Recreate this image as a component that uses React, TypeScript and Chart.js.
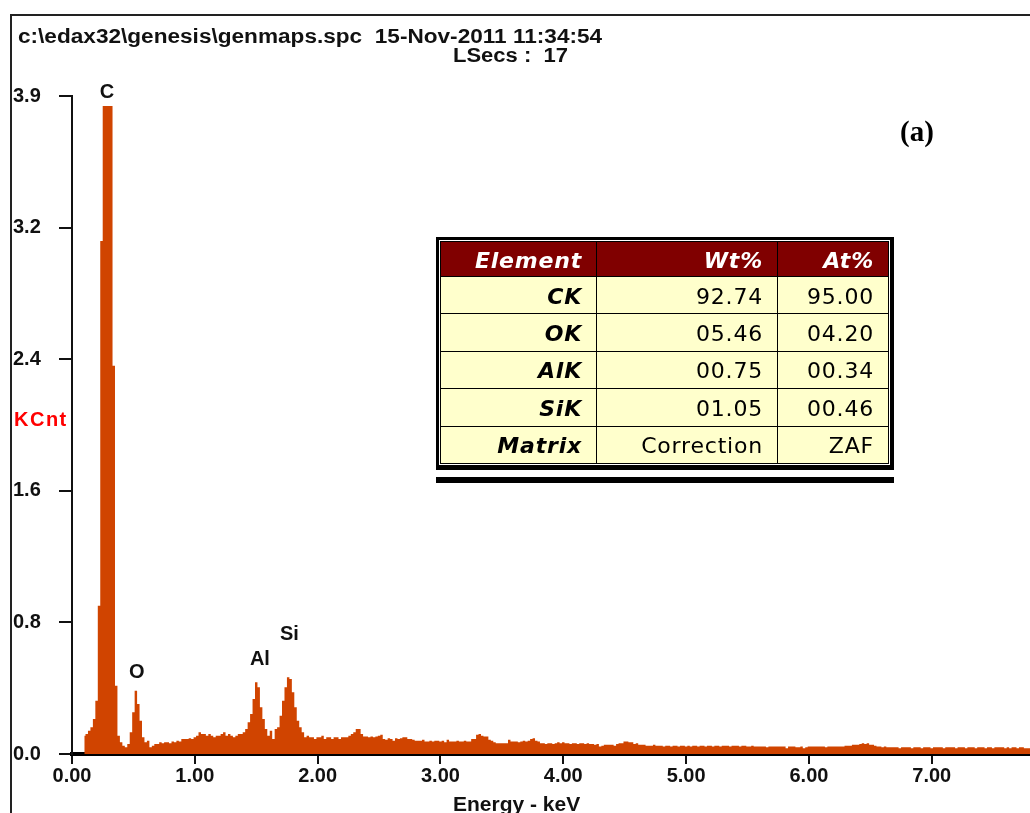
import React, { useEffect, useRef } from "react";
import { Chart, registerables } from "chart.js";

Chart.register(...registerables);

// Spectrum channels: centre of the first channel and channel width, in keV
const CHANNEL_START = 0.1;
const CHANNEL_WIDTH = 0.02;

// Counts per channel (KCnt), one row per 0.20 keV starting at the energy in the comment
const counts: number[] = [
  /* 0.10 */ 0.11, 0.12, 0.14, 0.16, 0.21, 0.32, 0.89, 3.08, 3.89, 3.89,
  /* 0.30 */ 3.89, 3.89, 2.33, 0.41, 0.11, 0.07, 0.05, 0.04, 0.06, 0.13,
  /* 0.50 */ 0.25, 0.38, 0.3, 0.2, 0.1, 0.07, 0.08, 0.04, 0.05, 0.06,
  /* 0.70 */ 0.06, 0.07, 0.065, 0.07, 0.07, 0.065, 0.075, 0.07, 0.08, 0.075,
  /* 0.90 */ 0.09, 0.09, 0.09, 0.095, 0.09, 0.1, 0.11, 0.13, 0.12, 0.12,
  /* 1.10 */ 0.11, 0.12, 0.11, 0.1, 0.11, 0.11, 0.12, 0.13, 0.11, 0.12,
  /* 1.30 */ 0.11, 0.1, 0.11, 0.12, 0.12, 0.13, 0.15, 0.19, 0.24, 0.33,
  /* 1.50 */ 0.43, 0.4, 0.28, 0.21, 0.15, 0.11, 0.14, 0.09, 0.15, 0.16,
  /* 1.70 */ 0.23, 0.32, 0.4, 0.46, 0.45, 0.37, 0.28, 0.2, 0.16, 0.13,
  /* 1.90 */ 0.1, 0.11, 0.1, 0.1, 0.09, 0.1, 0.1, 0.11, 0.09, 0.1,
  /* 2.10 */ 0.1, 0.09, 0.1, 0.1, 0.09, 0.1, 0.1, 0.1, 0.11, 0.12,
  /* 2.30 */ 0.13, 0.15, 0.15, 0.12, 0.105, 0.105, 0.1, 0.105, 0.1, 0.105,
  /* 2.50 */ 0.11, 0.115, 0.09, 0.085, 0.095, 0.09, 0.08, 0.095, 0.09, 0.095,
  /* 2.70 */ 0.1, 0.1, 0.09, 0.09, 0.085, 0.08, 0.08, 0.08, 0.085, 0.075,
  /* 2.90 */ 0.075, 0.08, 0.075, 0.08, 0.08, 0.075, 0.08, 0.07, 0.085, 0.075,
  /* 3.10 */ 0.075, 0.075, 0.08, 0.075, 0.075, 0.08, 0.075, 0.075, 0.09, 0.09,
  /* 3.30 */ 0.115, 0.12, 0.11, 0.105, 0.105, 0.085, 0.08, 0.07, 0.065, 0.065,
  /* 3.50 */ 0.065, 0.065, 0.065, 0.085, 0.075, 0.075, 0.075, 0.07, 0.075, 0.08,
  /* 3.70 */ 0.075, 0.08, 0.09, 0.095, 0.08, 0.075, 0.065, 0.065, 0.06, 0.065,
  /* 3.90 */ 0.065, 0.06, 0.065, 0.07, 0.065, 0.07, 0.065, 0.065, 0.06, 0.065,
  /* 4.10 */ 0.065, 0.06, 0.065, 0.065, 0.06, 0.065, 0.06, 0.06, 0.055, 0.06,
  /* 4.30 */ 0.045, 0.05, 0.055, 0.055, 0.055, 0.055, 0.05, 0.06, 0.065, 0.065,
  /* 4.50 */ 0.075, 0.075, 0.07, 0.07, 0.06, 0.065, 0.055, 0.055, 0.055, 0.05,
  /* 4.70 */ 0.05, 0.05, 0.055, 0.05, 0.05, 0.05, 0.045, 0.05, 0.05, 0.045,
  /* 4.90 */ 0.05, 0.05, 0.045, 0.05, 0.05, 0.045, 0.05, 0.045, 0.05, 0.05,
  /* 5.10 */ 0.045, 0.05, 0.05, 0.045, 0.05, 0.05, 0.045, 0.05, 0.05, 0.045,
  /* 5.30 */ 0.05, 0.05, 0.05, 0.045, 0.05, 0.05, 0.05, 0.045, 0.05, 0.05,
  /* 5.50 */ 0.045, 0.045, 0.05, 0.045, 0.045, 0.045, 0.045, 0.045, 0.04, 0.045,
  /* 5.70 */ 0.045, 0.045, 0.045, 0.045, 0.045, 0.045, 0.035, 0.045, 0.045, 0.045,
  /* 5.90 */ 0.04, 0.04, 0.045, 0.035, 0.04, 0.045, 0.045, 0.045, 0.045, 0.045,
  /* 6.10 */ 0.045, 0.045, 0.04, 0.045, 0.045, 0.045, 0.045, 0.045, 0.045, 0.045,
  /* 6.30 */ 0.05, 0.05, 0.05, 0.055, 0.055, 0.055, 0.06, 0.065, 0.06, 0.065,
  /* 6.50 */ 0.055, 0.055, 0.05, 0.045, 0.045, 0.04, 0.045, 0.04, 0.04, 0.04,
  /* 6.70 */ 0.04, 0.04, 0.035, 0.04, 0.04, 0.04, 0.04, 0.035, 0.04, 0.04,
  /* 6.90 */ 0.04, 0.035, 0.04, 0.04, 0.04, 0.035, 0.04, 0.04, 0.04, 0.04,
  /* 7.10 */ 0.035, 0.04, 0.04, 0.04, 0.04, 0.035, 0.04, 0.04, 0.04, 0.035,
  /* 7.30 */ 0.04, 0.04, 0.04, 0.035, 0.04, 0.04, 0.04, 0.035, 0.04, 0.04,
  /* 7.50 */ 0.035, 0.04, 0.04, 0.04, 0.04, 0.035, 0.04, 0.035, 0.04, 0.04,
  /* 7.70 */ 0.035, 0.04, 0.04, 0.035, 0.035, 0.035,
];

// Axes
const X_MAX = 7.8;
const xTickValues = [0, 1, 2, 3, 4, 5, 6, 7];
const xTickLabels = ["0.00", "1.00", "2.00", "3.00", "4.00", "5.00", "6.00", "7.00"];
const Y_MAX = 3.95;
const yTickValues = [0, 0.79, 1.58, 2.37, 3.16, 3.95];
const yTickLabels = ["0.0", "0.8", "1.6", "2.4", "3.2", "3.9"];

// Element peak markers: energy (keV) and height (KCnt) where each name sits
const peakNames = ["C", "O", "Al", "Si"];
const peakEnergies = [0.285, 0.527, 1.53, 1.77];
const peakLabelLevels = [3.97, 0.49, 0.57, 0.72];

// Quantification table
const tableHeader = ["Element", "Wt%", "At%"];
const elements = ["CK", "OK", "AlK", "SiK", "Matrix"];
const wtPercent = ["92.74", "05.46", "00.75", "01.05", "Correction"];
const atPercent = ["95.00", "04.20", "00.34", "00.46", "ZAF"];

const SPECTRUM_COLOR = "#D04400";
const SANS = '"Liberation Sans", Arial, sans-serif';

const peakLabelPlugin = {
  id: "peakLabels",
  afterDatasetsDraw(chart: any) {
    const { ctx, scales } = chart;
    const x = scales.x;
    const y = scales.y;
    ctx.save();
    ctx.font = `bold 20px ${SANS}`;
    ctx.fillStyle = "#111";
    ctx.textAlign = "center";
    ctx.textBaseline = "middle";
    peakNames.forEach((name, i) => {
      ctx.fillText(name, x.getPixelForValue(peakEnergies[i]), y.getPixelForValue(peakLabelLevels[i]));
    });
    ctx.restore();
  },
};

function SpectrumChart() {
  const canvasRef = useRef<HTMLCanvasElement | null>(null);

  useEffect(() => {
    const canvas = canvasRef.current;
    if (!canvas) return;
    const points = counts.map((c, i) => ({ x: CHANNEL_START + i * CHANNEL_WIDTH, y: c }));
    const tickFont = { family: SANS, size: 20, weight: "bold" as const };

    const chart = new Chart(canvas, {
      type: "line",
      data: {
        datasets: [
          {
            data: points,
            stepped: "middle",
            fill: "origin",
            backgroundColor: SPECTRUM_COLOR,
            borderColor: SPECTRUM_COLOR,
            borderWidth: 0,
            pointRadius: 0,
          },
        ],
      },
      options: {
        animation: false,
        responsive: false,
        maintainAspectRatio: false,
        devicePixelRatio: 1,
        layout: { padding: { left: 13, top: 96, right: 0, bottom: 0 } },
        plugins: {
          legend: { display: false },
          tooltip: { enabled: false },
          title: { display: false },
        },
        scales: {
          x: {
            type: "linear",
            min: 0,
            max: X_MAX,
            afterBuildTicks: (scale: any) => {
              scale.ticks = xTickValues.map((v) => ({ value: v }));
            },
            afterFit: (scale: any) => {
              scale.height = 59;
            },
            ticks: {
              autoSkip: false,
              maxRotation: 0,
              padding: 0,
              color: "#111",
              font: tickFont,
              callback: (_v: any, i: number) => xTickLabels[i],
            },
            grid: {
              drawOnChartArea: false,
              drawTicks: true,
              tickLength: 10,
              color: "#111",
              lineWidth: 2,
            },
            border: { display: true, color: "#000", width: 4 },
          },
          y: {
            type: "linear",
            min: 0,
            max: Y_MAX,
            afterBuildTicks: (scale: any) => {
              scale.ticks = yTickValues.map((v) => ({ value: v }));
            },
            afterFit: (scale: any) => {
              scale.width = 59;
            },
            ticks: {
              autoSkip: false,
              crossAlign: "far",
              color: "#111",
              font: tickFont,
              callback: (_v: any, i: number) => yTickLabels[i],
            },
            grid: {
              drawOnChartArea: false,
              drawTicks: true,
              tickLength: 13,
              color: "#111",
              lineWidth: 2,
            },
            border: { display: true, color: "#111", width: 2 },
          },
        },
      } as any,
      plugins: [peakLabelPlugin],
    });

    return () => chart.destroy();
  }, []);

  return <canvas ref={canvasRef} width={1030} height={813} style={{ display: "block", width: 1030, height: 813 }} />;
}

const cellBase: React.CSSProperties = {
  border: "1.5px solid #000",
  textAlign: "right",
  padding: "3px 14px 0 0",
  lineHeight: "24px",
  whiteSpace: "nowrap",
  overflow: "hidden",
};

function ResultTable() {
  return (
    <>
      <div
        style={{
          position: "absolute",
          left: 436,
          top: 237,
          width: 458,
          height: 233,
          boxSizing: "border-box",
          border: "3px solid #000",
          borderRightWidth: 4,
          borderBottomWidth: 5,
          padding: 1,
          background: "#fff",
        }}
      >
        <table
          style={{
            borderCollapse: "collapse",
            width: "100%",
            height: "100%",
            tableLayout: "fixed",
            fontFamily: '"DejaVu Sans", sans-serif',
            fontSize: 22,
            letterSpacing: 0.8,
            color: "#000",
          }}
        >
          <colgroup>
            <col style={{ width: 156 }} />
            <col style={{ width: 181 }} />
            <col />
          </colgroup>
          <thead>
            <tr style={{ height: 35, background: "#800000", color: "#fff" }}>
              {tableHeader.map((h) => (
                <th key={h} style={{ ...cellBase, fontStyle: "italic", fontWeight: "bold" }}>
                  {h}
                </th>
              ))}
            </tr>
          </thead>
          <tbody>
            {elements.map((el, i) => (
              <tr key={el} style={{ background: "#FFFFCC" }}>
                <td style={{ ...cellBase, fontStyle: "italic", fontWeight: "bold" }}>{el}</td>
                <td style={cellBase}>{wtPercent[i]}</td>
                <td style={cellBase}>{atPercent[i]}</td>
              </tr>
            ))}
          </tbody>
        </table>
      </div>
      <div style={{ position: "absolute", left: 436, top: 477, width: 458, height: 6, background: "#000" }} />
    </>
  );
}

export default function App() {
  const text = (extra: React.CSSProperties): React.CSSProperties => ({
    position: "absolute",
    fontFamily: SANS,
    fontWeight: "bold",
    whiteSpace: "pre",
    color: "#111",
    ...extra,
  });

  return (
    <div
      style={{
        position: "absolute",
        left: 0,
        top: 0,
        width: 1030,
        height: 813,
        overflow: "hidden",
        background: "#fff",
      }}
    >
      <SpectrumChart />
      {/* window frame */}
      <div
        style={{
          position: "absolute",
          left: 10,
          top: 14,
          width: 1100,
          height: 900,
          borderLeft: "2px solid #222",
          borderTop: "2px solid #222",
          pointerEvents: "none",
        }}
      />
      <div
        style={text({
          left: 18,
          top: 26,
          fontSize: 20,
          lineHeight: "20px",
          transform: "scaleX(1.13)",
          transformOrigin: "left top",
        })}
      >
        {"c:\\edax32\\genesis\\genmaps.spc  15-Nov-2011 11:34:54"}
      </div>
      <div
        style={text({
          left: 453,
          top: 45,
          fontSize: 20,
          lineHeight: "20px",
          transform: "scaleX(1.1)",
          transformOrigin: "left top",
        })}
      >
        {"LSecs :  17"}
      </div>
      <div style={text({ left: 14, top: 409, fontSize: 20, lineHeight: "20px", color: "#FF0000", letterSpacing: 1.5 })}>
        KCnt
      </div>
      <div style={text({ left: 453, top: 793, fontSize: 21, lineHeight: "21px" })}>Energy - keV</div>
      <div
        style={{
          position: "absolute",
          left: 900,
          top: 117,
          fontFamily: '"Liberation Serif", "Times New Roman", serif',
          fontWeight: "bold",
          fontSize: 29,
          lineHeight: "29px",
          color: "#000",
        }}
      >
        (a)
      </div>
      <ResultTable />
    </div>
  );
}
